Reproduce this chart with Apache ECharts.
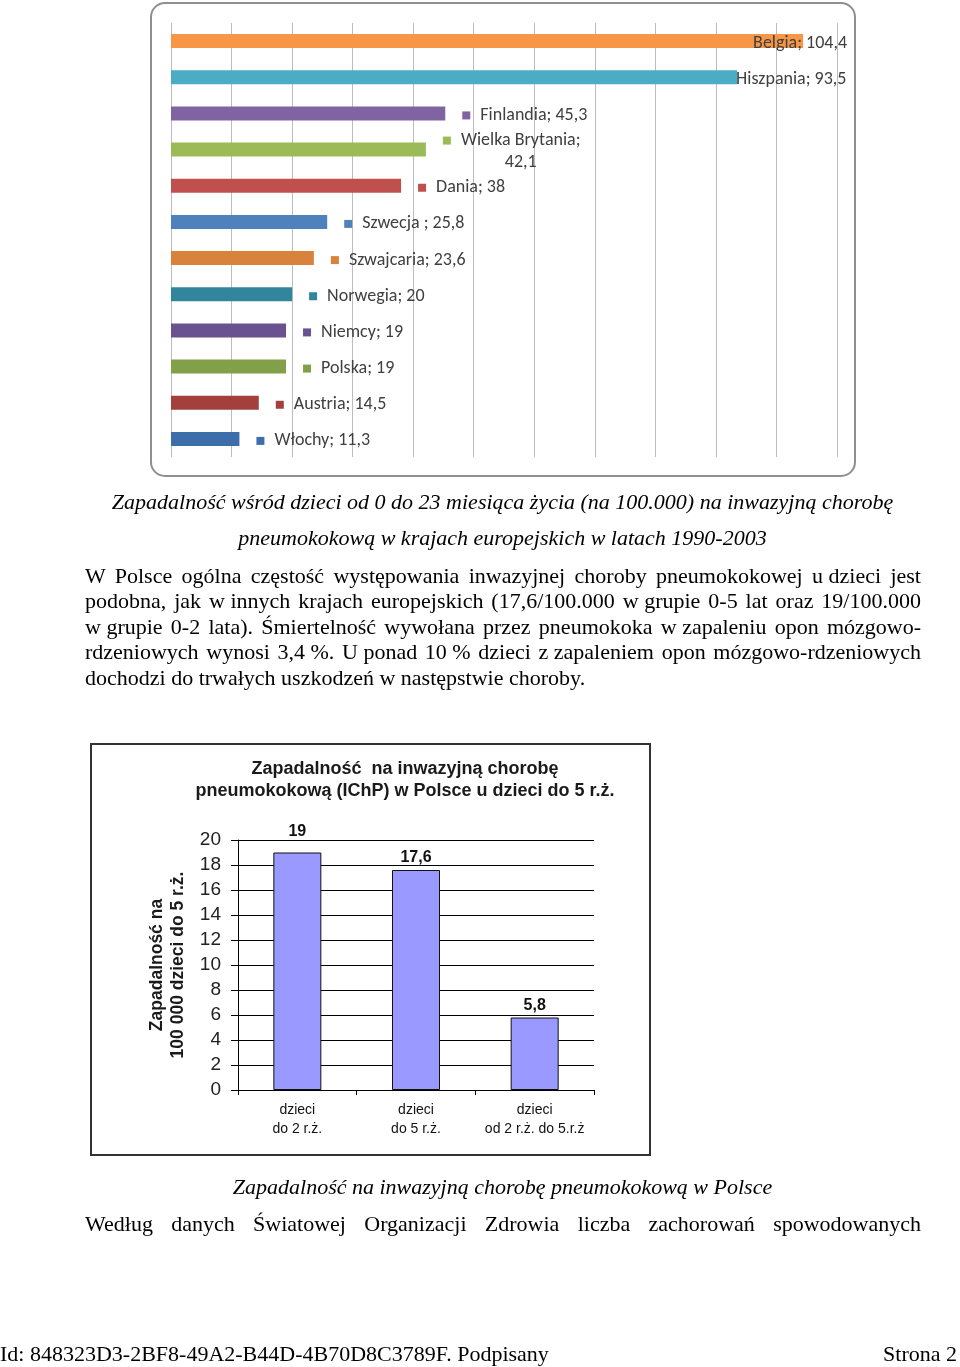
<!DOCTYPE html>
<html>
<head>
<meta charset="utf-8">
<script src="https://cdn.jsdelivr.net/npm/echarts@6/dist/echarts.min.js"></script>
<style>
  html, body { margin: 0; padding: 0; background: #fff; }
  #page { position: relative; width: 960px; height: 1367px; overflow: hidden; }
  #chart { position: absolute; left: 0; top: 0; width: 960px; height: 1367px; }
  .t { position: absolute; font-family: "Liberation Serif", "Times New Roman", serif; font-size: 22px; color: #000; white-space: nowrap; line-height: 26px; z-index: 2; }
  .cap { font-style: italic; text-align: center; left: 0; width: 1000px; }
  .j { left: 85px; width: 836px; text-align: justify; text-align-last: justify; white-space: normal; }
  .nb { display: inline-block; }
</style>
</head>
<body>
<div id="page">
  <div id="chart"></div>
  <div class="t cap" style="top:489px; left:0; width:1005px;">Zapadalność wśród dzieci od 0 do 23 miesiąca życia (na 100.000) na inwazyjną chorobę</div>
  <div class="t cap" style="top:525px; left:0; width:1005px;">pneumokokową w krajach europejskich w latach 1990-2003</div>
  <div class="t j" style="top:563px;">W Polsce ogólna częstość występowania inwazyjnej choroby pneumokokowej <span class="nb">u dzieci</span> jest</div>
  <div class="t j" style="top:588px;">podobna, jak <span class="nb">w innych</span> krajach europejskich (17,6/100.000 <span class="nb">w grupie</span> 0-5 lat oraz 19/100.000</div>
  <div class="t j" style="top:614px;"><span class="nb">w grupie</span> 0-2 lata). Śmiertelność wywołana przez pneumokoka <span class="nb">w zapaleniu</span> opon mózgowo-</div>
  <div class="t j" style="top:639px;">rdzeniowych wynosi <span class="nb">3,4 %</span>. <span class="nb">U ponad</span> <span class="nb">10 %</span> dzieci <span class="nb">z zapaleniem</span> opon mózgowo-rdzeniowych</div>
  <div class="t" style="top:665px; left:85px;">dochodzi do trwałych uszkodzeń w następstwie choroby.</div>
  <div class="t cap" style="top:1174px; left:0; width:1005px;">Zapadalność na inwazyjną chorobę pneumokokową w Polsce</div>
  <div class="t j" style="top:1211px;">Według danych Światowej Organizacji Zdrowia liczba zachorowań spowodowanych</div>
  <div class="t" style="top:1341px; left:0;">Id: 848323D3-2BF8-49A2-B44D-4B70D8C3789F. Podpisany</div>
  <div class="t" style="top:1341px; right:3px;">Strona 2</div>
</div>
<script>
// ---- Chart 1 data: incidence per 100 000 children aged 0-23 months ----
const countries = ['Belgia', 'Hiszpania', 'Finlandia', 'Wielka Brytania', 'Dania', 'Szwecja ', 'Szwajcaria', 'Norwegia', 'Niemcy', 'Polska', 'Austria', 'Włochy'];
const incidence = [104.4, 93.5, 45.3, 42.1, 38, 25.8, 23.6, 20, 19, 19, 14.5, 11.3];
const countryColors = ['#F79646', '#4BACC6', '#8064A2', '#9BBB59', '#C0504D', '#4F81BD', '#D9823B', '#31869B', '#6A5291', '#82A04A', '#A3403D', '#3E6EAA'];
const valueTicks = [0, 10, 20, 30, 40, 50, 60, 70, 80, 90, 100, 110];

// ---- Chart 2 data: IChP in Poland, children under 5 ----
const groups = ['dzieci\ndo 2 r.ż.', 'dzieci\ndo 5 r.ż.', 'dzieci\nod 2 r.ż. do 5.r.ż'];
const groupValues = [19, 17.6, 5.8];
const rateTicks = [0, 2, 4, 6, 8, 10, 12, 14, 16, 18, 20];

const fmt = v => String(v).replace('.', ',');
const LABEL_FONT = 'Carlito, Calibri, Lato, sans-serif';
const SANS = 'Liberation Sans, Arial, sans-serif';

const chart = echarts.init(document.getElementById('chart'), null, { renderer: 'canvas' });

const c1Data = incidence.map((v, i) => {
  const name = countries[i];
  const label = {
    offset: [0, 2],
    rich: {
      sq: { width: 8, height: 8, backgroundColor: countryColors[i] },
      t: { padding: [0, 0, 0, 10], fontSize: 18, lineHeight: 22, color: '#404040', fontFamily: LABEL_FONT },
      c: { align: 'center', padding: [0, 0, 0, 18], fontSize: 18, lineHeight: 22, color: '#404040', fontFamily: LABEL_FONT }
    }
  };
  if (name === 'Belgia') label.offset = [-85, 2];
  if (name === 'Hiszpania') label.offset = [-36, 2];
  return { name: name, value: v, itemStyle: { color: countryColors[i] }, label: label };
});

chart.setOption({
  animation: false,
  backgroundColor: '#fff',
  title: {
    text: 'Zapadalność  na inwazyjną chorobę\npneumokokową (IChP) w Polsce u dzieci do 5 r.ż.',
    left: 400, top: 753, textAlign: 'center',
    textStyle: { fontFamily: SANS, fontWeight: 'bold', fontSize: 18, lineHeight: 22, color: '#1a1a1a' }
  },
  graphic: [
    { type: 'rect', shape: { x: 151, y: 3, width: 704, height: 473, r: 14 }, style: { fill: 'none', stroke: '#8f8f8f', lineWidth: 2 }, z: 0 },
    { type: 'rect', shape: { x: 91, y: 744, width: 559, height: 411 }, style: { fill: 'none', stroke: '#333', lineWidth: 2 }, z: 0 }
  ],
  grid: [
    { left: 171, top: 23, width: 666, height: 434 },
    { left: 238, top: 840, width: 356, height: 250 }
  ],
  xAxis: [
    {
      gridIndex: 0, type: 'value', min: valueTicks[0], max: valueTicks[valueTicks.length - 1], interval: 10,
      axisLine: { show: false }, axisTick: { show: false }, axisLabel: { show: false },
      splitLine: { show: true, lineStyle: { color: '#bcbcbc', width: 1 } }
    },
    {
      gridIndex: 1, type: 'category', data: groups,
      axisLine: { show: true, lineStyle: { color: '#000', width: 1 } },
      axisTick: { show: true, length: 5, lineStyle: { color: '#000' } },
      axisLabel: { interval: 0, margin: 11, fontFamily: SANS, fontSize: 14, lineHeight: 19, color: '#111' }
    }
  ],
  yAxis: [
    {
      gridIndex: 0, type: 'category', data: countries, inverse: true,
      axisLine: { show: false }, axisTick: { show: false }, axisLabel: { show: false }
    },
    {
      gridIndex: 1, type: 'value', min: rateTicks[0], max: rateTicks[rateTicks.length - 1], interval: 2,
      name: 'Zapadalność na\n100 000 dzieci do 5 r.ż.',
      nameLocation: 'middle', nameRotate: 90, nameGap: 49,
      nameTextStyle: { fontFamily: SANS, fontWeight: 'bold', fontSize: 17.5, lineHeight: 21, color: '#1a1a1a' },
      axisLine: { show: true, lineStyle: { color: '#000', width: 1 } },
      axisTick: { show: true, length: 7, lineStyle: { color: '#000' } },
      axisLabel: { margin: 17, fontFamily: SANS, fontSize: 19, color: '#222' },
      splitLine: { show: true, lineStyle: { color: '#000', width: 1 } }
    }
  ],
  series: [
    {
      type: 'bar', xAxisIndex: 0, yAxisIndex: 0, barWidth: 14,
      data: c1Data,
      label: {
        show: true, position: 'right', distance: 17,
        formatter: p => p.name === 'Wielka Brytania'
          ? '{sq|}{t|' + p.name + ';}\n{c|' + fmt(p.value) + '}'
          : '{sq|}{t|' + p.name + '; ' + fmt(p.value) + '}'
      }
    },
    {
      type: 'bar', xAxisIndex: 1, yAxisIndex: 1, barWidth: 48,
      itemStyle: { color: '#9999FF', borderColor: '#111', borderWidth: 1 },
      data: groupValues.map((v, i) => i === 0 ? { value: v, label: { offset: [0, -9] } } : v),
      label: {
        show: true, position: 'top', distance: 4,
        formatter: p => fmt(p.value),
        fontFamily: SANS, fontWeight: 'bold', fontSize: 16, color: '#111'
      }
    }
  ]
});
</script>
</body>
</html>
